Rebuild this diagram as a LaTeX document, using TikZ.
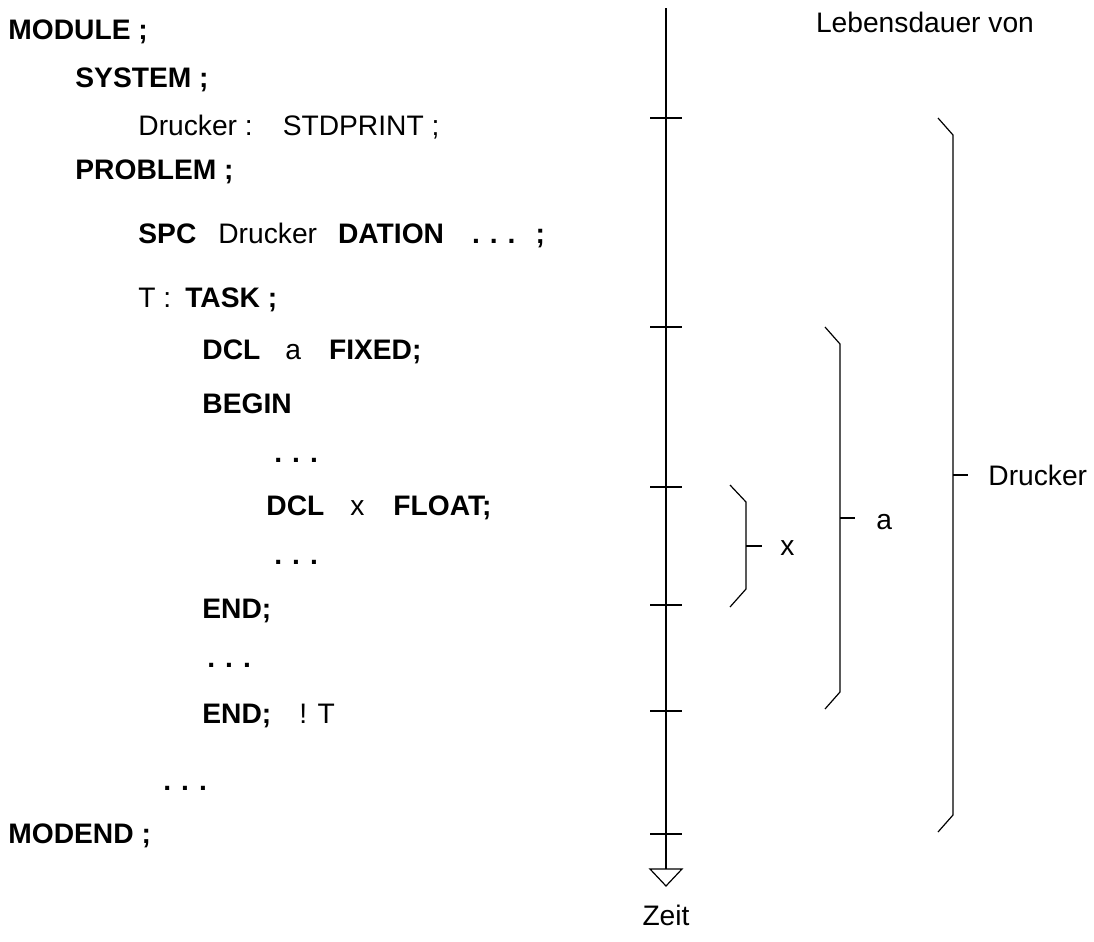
\documentclass[tikz,border=0pt]{standalone}
\usepackage{fontspec}
\setmainfont{Liberation Sans}
\usetikzlibrary{positioning,calc}

% bold ellipsis with wide gaps
\newcommand{\pdots}{\textbf{.\hspace{5pt}.\hspace{5pt}.}}

\begin{document}
\begin{tikzpicture}[
  x=0.5pt, y=-0.5pt,
  font=\fontsize{14.1}{17}\selectfont,
  code/.style={anchor=west, inner sep=0pt},
  lbl/.style={inner sep=0pt},
  axis/.style={line width=0.6pt},
  brk/.style={line width=0.6pt},
]
\useasboundingbox (0,0) rectangle (1094,942);

% program text
\node[code] (l1)  at (8,32)    {\textbf{MODULE ;}};
\node[code] (l2)  at (75,80)   {\textbf{SYSTEM ;}};
\node[code] (l3)  at (138,127) {Drucker :\hspace{15pt}STDPRINT ;};
\node[code] (l4)  at (75,172)  {\textbf{PROBLEM ;}};
\node[code] (l5)  at (138,235) {\textbf{SPC}\hspace{11pt}Drucker\hspace{10.5pt}\textbf{DATION}\hspace{14pt}\pdots\hspace{10pt}\textbf{;}};
\node[code] (l6)  at (138,300) {T :\hspace{7pt}\textbf{TASK ;}};
\node[code] (l7)  at (202,352) {\textbf{DCL}\hspace{12.5pt}a\hspace{14pt}\textbf{FIXED;}};
\node[code] (l8)  at (202,404) {\textbf{BEGIN}};
\node[code] (l9)  at (274,460) {\pdots};
\node[code] (l10) at (266,508) {\textbf{DCL}\hspace{13pt}x\hspace{14.5pt}\textbf{FLOAT;}};
\node[code] (l11) at (274,562) {\pdots};
\node[code] (l12) at (202,611) {\textbf{END;}};
\node[code] (l13) at (207,665) {\pdots};
\node[code] (l14) at (202,716) {\textbf{END;}\hspace{14pt}! T};
\node[code] (l15) at (163,788) {\pdots};
\node[code] (l16) at (8,836)   {\textbf{MODEND ;}};

% time axis
\coordinate (top) at (666,8);
\coordinate (bot) at (666,869);
\draw[axis] (top) -- (bot);
\draw[axis] (bot) -- ++(-16,0) -- (666,886) -- (682,869) -- cycle;
\foreach \y in {118,327,487,605,711,834}
  \draw[axis] (650,\y) -- (682,\y);
\node[lbl] (zeit) at (666,915) {Zeit};
\node[lbl] (head) at (925,22) {Lebensdauer von};

% lifetimes
\draw[brk] (938,118) -- (953,135) -- (953,815) -- (938,832);
\draw[brk] (953,475) -- (968,475);
\node[lbl, anchor=west] (drucker) at (988,475) {Drucker};

\draw[brk] (825,327) -- (840,344) -- (840,692) -- (825,709);
\draw[brk] (840,518) -- (855,518);
\node[lbl, anchor=west] (a) at (876,522) {a};

\draw[brk] (730,485) -- (746,502) -- (746,589) -- (730,607);
\draw[brk] (746,546) -- (762,546);
\node[lbl, anchor=west] (x) at (780,548) {x};

\end{tikzpicture}
\end{document}
